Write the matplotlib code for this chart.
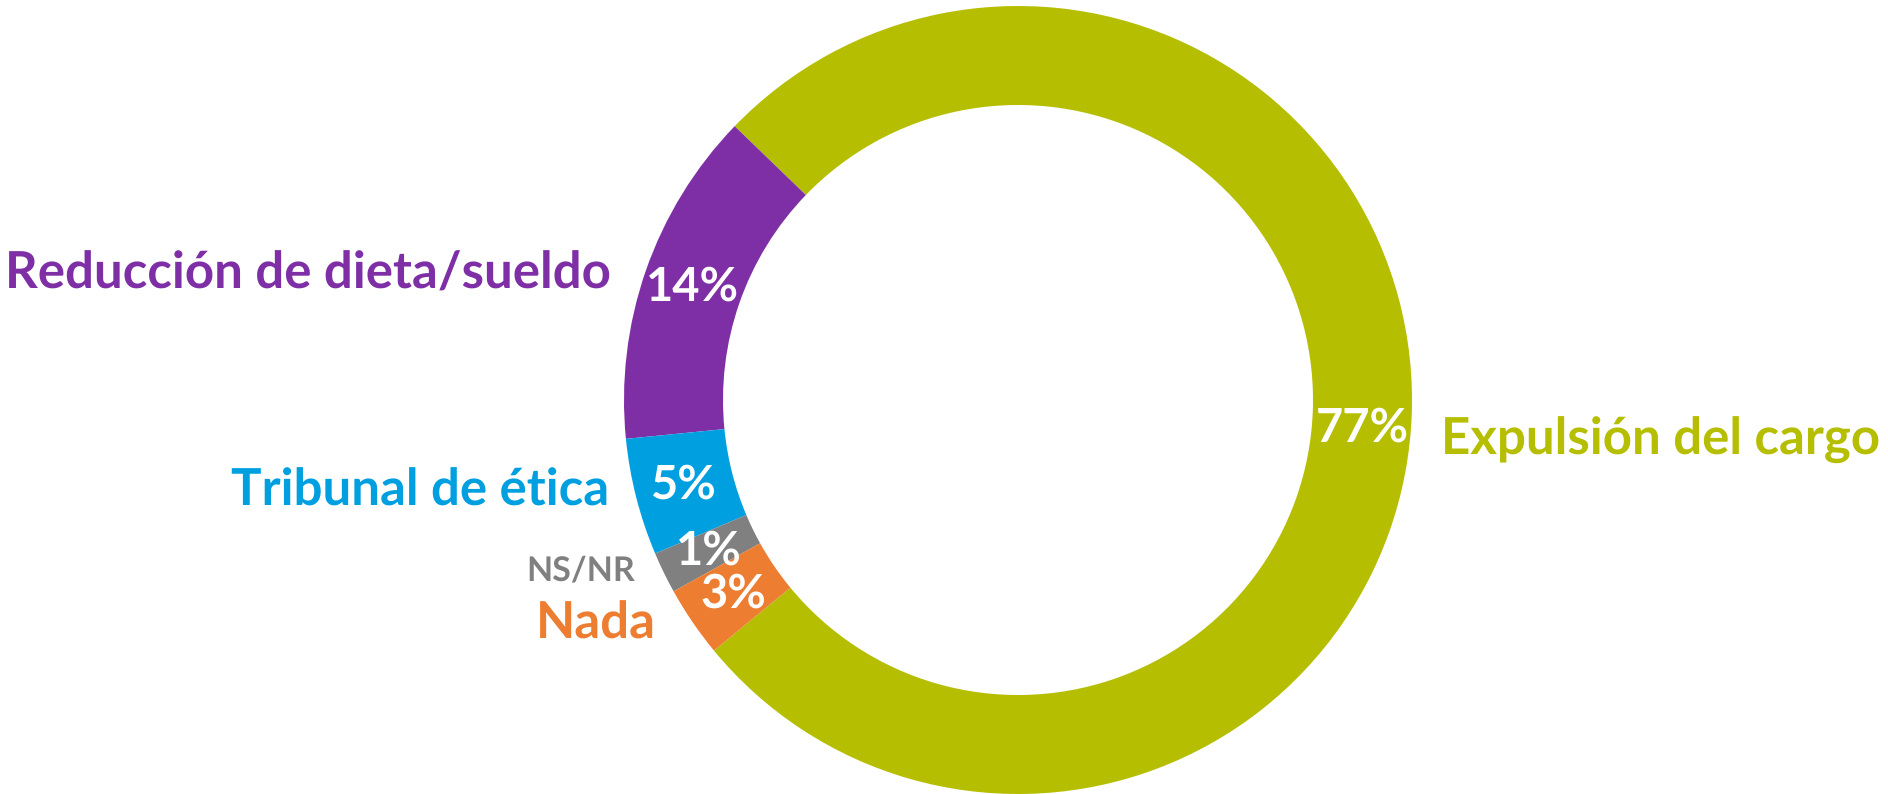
import numpy as np
import matplotlib
matplotlib.use("Agg")
from matplotlib import pyplot as plt

plt.rcParams["text.hinting"] = "no_hinting"
plt.rcParams["text.hinting_factor"] = 1

# data (share of answers, %)
categories = ["Expulsión del cargo", "Reducción de dieta/sueldo", "Tribunal de ética", "NS/NR", "Nada"]
values = [76.8, 13.8, 4.8, 1.7, 2.9]
pct_labels = ["77%", "14%", "5%", "1%", "3%"]
colors = ["#B5BE00", "#7F2FA6", "#00A0E0", "#808080", "#ED7D31"]

W, H = 1888, 794
fig = plt.figure(figsize=(W / 100, H / 100), dpi=100)
ax = fig.add_axes([0, 0, 1, 1])

R = 394
cx, cy = 1018, H - 400
wedges, _ = ax.pie(values, colors=colors, startangle=219.5, counterclock=True,
                   radius=R, center=(cx, cy),
                   wedgeprops=dict(width=99, linewidth=0))
ax.set_xlim(0, W)
ax.set_ylim(0, H)
ax.set_aspect("equal")
ax.axis("off")

font = "Lato"
big = 36.5

# percentages inside the ring, at the middle of each wedge
nudge = [-14, 0, 0, 0, 0]   # 77% sits a bit low in the original
for w, lab, dy in zip(wedges, pct_labels, nudge):
    ang = np.deg2rad((w.theta1 + w.theta2) / 2)
    r = R - 99 / 2
    ax.text(cx + r * np.cos(ang), cy + r * np.sin(ang) + dy, lab, color="white",
            fontsize=34, fontweight="bold", family=font, ha="center", va="center")

# category names (x, baseline y from top, alignment, size)
name_pos = [(1441, 455, "left", big), (611, 289, "right", big), (609, 506, "right", big),
            (635, 580, "right", 24.5), (656, 639, "right", big)]
for name, col, (x, y, ha, fs) in zip(categories, colors, name_pos):
    ax.text(x, H - y, name, color=col, fontsize=fs, fontweight="bold",
            family=font, ha=ha, va="baseline")

fig.savefig("out.png", dpi=100)
